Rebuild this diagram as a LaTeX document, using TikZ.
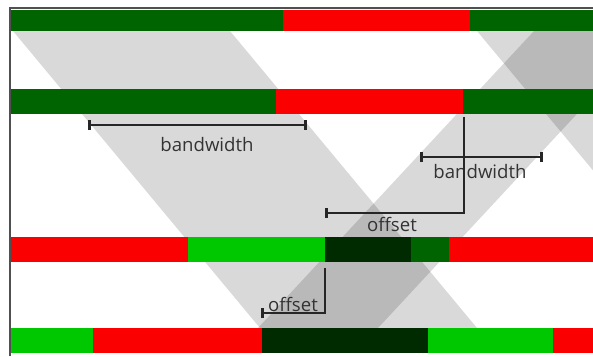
\documentclass[tikz,border=0pt]{standalone}
\usepackage{fontspec}
\usepackage{tikz}
\usetikzlibrary{arrows.meta}
\newfontfamily\labelfont{Open Sans}
\definecolor{dark-green}{RGB}{0,100,0}
\definecolor{deep-green}{RGB}{0,42,0}
\definecolor{light-green}{RGB}{0,200,0}
\definecolor{signal-red}{RGB}{250,0,0}
\definecolor{frame-gray}{RGB}{80,80,80}
\tikzset{
    green-band/.style = {fill=black, fill opacity=0.15},
    measure-line/.style = {draw=black!85, line width=2.8pt},
    measure-label/.style = {font=\labelfont\fontsize{18.6}{20}\selectfont, text=black!80, inner sep=0pt},
}

\begin{document}
\begin{tikzpicture}[x=1pt, y=-1pt]
\useasboundingbox (0,0) rectangle (593,356);
\begin{scope}
\clip (10,8) rectangle (593,356);
% bands
\fill[green-band] (13,31) -- (230,31) -- (477,328) -- (260,328) -- cycle;
\fill[green-band] (534,31) -- (654,31) -- (378,328) -- (258,328) -- cycle;
\fill[green-band] (477,31) -- (700,31) -- (700,299) -- cycle;
% signal bars
\foreach \from/\to/\col in {10/283/dark-green, 283/470/signal-red, 470/593/dark-green}
    \fill[\col] (\from,10) rectangle (\to,31);
\foreach \from/\to/\col in {10/276/dark-green, 276/463/signal-red, 463/593/dark-green}
    \fill[\col] (\from,89) rectangle (\to,114);
\foreach \from/\to/\col in {10/188/signal-red, 188/325/light-green, 325/411/deep-green, 411/449/dark-green, 449/593/signal-red}
    \fill[\col] (\from,237) rectangle (\to,262);
\foreach \from/\to/\col in {10/93/light-green, 93/262/signal-red, 262/428/deep-green, 428/553/light-green, 553/593/signal-red}
    \fill[\col] (\from,328) rectangle (\to,353);
\end{scope}
\draw[frame-gray, line width=1.2pt] (10,356) -- (10,8) -- (593,8);

\coordinate (bw1-left) at (88,125);
\coordinate (bw1-right) at (307,125);
\coordinate (bw2-left) at (420,157);
\coordinate (bw2-right) at (543,157);
\coordinate (off1-start) at (325,213);
\coordinate (off1-end) at (464,117);
\coordinate (off2-start) at (261,313);
\coordinate (off2-end) at (325,268);

\node[measure-label] (bw1-label) at (207,145) {bandwidth};
\node[measure-label] (bw2-label) at (480,172) {bandwidth};
\node[measure-label] (off1-label) at (392,224) {offset};
\node[measure-label] (off2-label) at (293,304) {offset};

\draw[measure-line, {Bar[width=10pt]}-{Bar[width=10pt]}] (bw1-left) -- (bw1-right);
\draw[measure-line, {Bar[width=10pt]}-{Bar[width=10pt]}] (bw2-left) -- (bw2-right);
\draw[measure-line, {Bar[width=10pt]}-] (off1-start) -| (off1-end);
\draw[measure-line, {Bar[width=10pt]}-] (off2-start) -| (off2-end);
\end{tikzpicture}
\end{document}
